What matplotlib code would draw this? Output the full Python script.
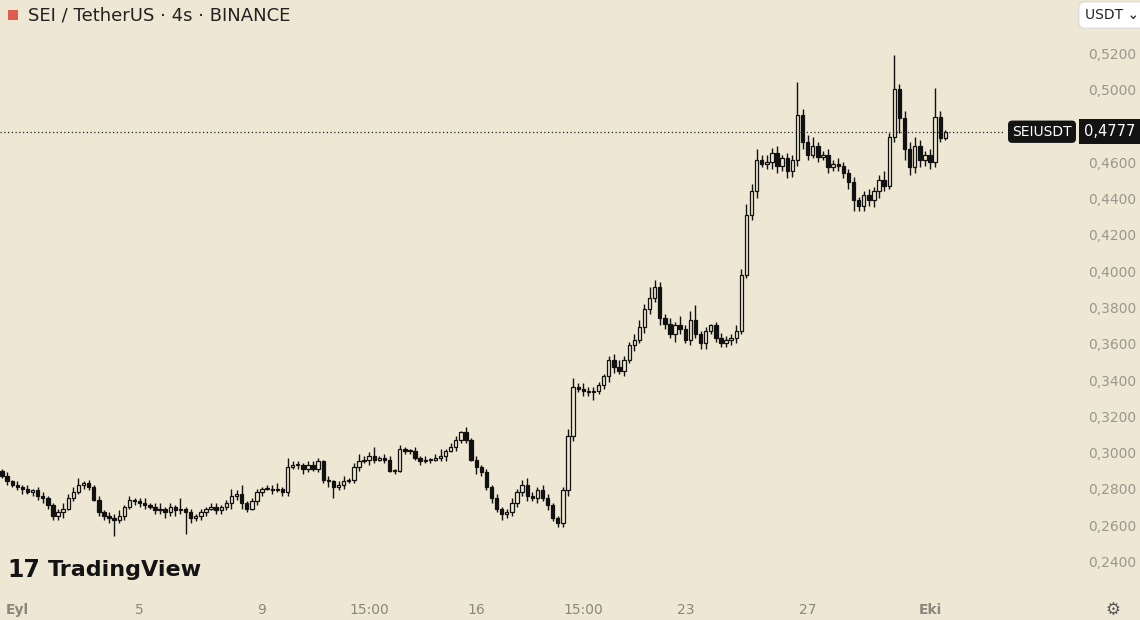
import matplotlib
matplotlib.use("Agg")
import matplotlib.pyplot as plt
import matplotlib.transforms as mtransforms
from matplotlib.patches import Rectangle, FancyBboxPatch

# 4h candles, SEI/USDT, late Aug -> Oct 1
closes = [
    0.288, 0.285, 0.283, 0.282, 0.281, 0.279, 0.280, 0.277, 0.276, 0.272,
    0.266, 0.268, 0.270, 0.276, 0.279, 0.283, 0.284, 0.282, 0.275, 0.268,
    0.266, 0.265, 0.264, 0.266, 0.271, 0.275, 0.274, 0.273, 0.272, 0.271,
    0.269, 0.270, 0.268, 0.271, 0.269, 0.270, 0.268, 0.265, 0.266, 0.268,
    0.270, 0.271, 0.269, 0.271, 0.273, 0.277, 0.278, 0.273, 0.270, 0.274,
    0.279, 0.281, 0.281, 0.280, 0.281, 0.279, 0.293, 0.294, 0.294, 0.292,
    0.294, 0.292, 0.296, 0.286, 0.285, 0.282, 0.283, 0.285, 0.286, 0.293,
    0.296, 0.297, 0.299, 0.297, 0.298, 0.297, 0.291, 0.291, 0.303, 0.302,
    0.302, 0.298, 0.296, 0.297, 0.297, 0.298, 0.299, 0.302, 0.304, 0.308,
    0.312, 0.308, 0.297, 0.293, 0.290, 0.282, 0.276, 0.270, 0.267, 0.268,
    0.273, 0.279, 0.283, 0.277, 0.276, 0.280, 0.276, 0.272, 0.265, 0.262,
    0.280, 0.310, 0.337, 0.336, 0.335, 0.334, 0.335, 0.338, 0.343, 0.352,
    0.348, 0.346, 0.352, 0.360, 0.363, 0.370, 0.380, 0.386, 0.392, 0.375,
    0.372, 0.366, 0.371, 0.369, 0.363, 0.374, 0.366, 0.361, 0.368, 0.371,
    0.364, 0.361, 0.363, 0.364, 0.368, 0.399, 0.432, 0.445, 0.462, 0.460,
    0.461, 0.466, 0.459, 0.463, 0.456, 0.462, 0.487, 0.472, 0.465, 0.470,
    0.464, 0.465, 0.458, 0.460, 0.459, 0.455, 0.450, 0.440, 0.437, 0.443,
    0.440, 0.445, 0.451, 0.448, 0.475, 0.501, 0.485, 0.468, 0.458, 0.470,
    0.462, 0.465, 0.461, 0.486, 0.474, 0.4777,
]
first_open = 0.291

# wick lengths in units of 0.001
up_wicks = [
    1, 2, 1, 2, 1, 2, 1, 2, 2, 1,
    1, 2, 3, 2, 3, 4, 1, 2, 1, 2,
    1, 2, 2, 3, 1, 2, 1, 2, 3, 1,
    2, 3, 1, 2, 1, 6, 1, 2, 1, 2,
    1, 2, 2, 1, 2, 4, 2, 5, 1, 2,
    2, 1, 2, 2, 3, 1, 5, 2, 2, 1,
    2, 2, 2, 1, 2, 1, 2, 3, 1, 2,
    4, 2, 2, 5, 1, 2, 2, 1, 2, 1,
    1, 2, 1, 2, 1, 2, 4, 1, 2, 2,
    1, 3, 1, 2, 1, 2, 1, 2, 1, 2,
    3, 2, 3, 4, 2, 2, 3, 2, 1, 1,
    2, 4, 5, 2, 3, 2, 2, 2, 1, 2,
    3, 4, 2, 2, 3, 4, 3, 6, 4, 3,
    2, 3, 2, 5, 2, 5, 8, 2, 2, 1,
    2, 3, 2, 2, 3, 3, 6, 4, 6, 3,
    4, 3, 4, 2, 3, 3, 18, 3, 4, 5,
    2, 2, 3, 2, 3, 2, 2, 3, 2, 2,
    3, 2, 3, 5, 2, 19, 3, 4, 4, 5,
    3, 2, 3, 16, 3, 1,
]
down_wicks = [
    1, 2, 1, 2, 3, 1, 2, 2, 3, 2,
    2, 2, 3, 1, 2, 1, 2, 2, 1, 2,
    2, 3, 9, 2, 2, 1, 2, 2, 2, 1,
    2, 2, 3, 2, 3, 2, 12, 3, 2, 2,
    2, 1, 2, 2, 2, 3, 2, 3, 2, 1,
    2, 2, 1, 2, 1, 2, 2, 1, 2, 3,
    2, 1, 2, 2, 3, 6, 2, 2, 1, 2,
    2, 1, 3, 2, 1, 2, 1, 2, 1, 2,
    2, 1, 2, 1, 2, 1, 2, 3, 1, 2,
    2, 2, 1, 4, 2, 2, 3, 2, 3, 2,
    2, 2, 2, 3, 2, 3, 2, 3, 2, 2,
    2, 3, 3, 2, 3, 2, 4, 2, 2, 3,
    3, 2, 3, 2, 3, 2, 3, 3, 2, 4,
    3, 2, 4, 3, 2, 3, 2, 3, 3, 2,
    2, 2, 2, 3, 3, 2, 2, 3, 4, 2,
    3, 4, 4, 3, 4, 3, 3, 4, 3, 2,
    3, 2, 3, 2, 3, 3, 4, 6, 3, 3,
    3, 4, 4, 3, 2, 3, 8, 6, 4, 3,
    4, 3, 4, 3, 2, 1,
]

x_labels = ["Eyl", "5", "9", "15:00", "16", "15:00", "23", "27", "Eki"]
x_label_idx = [3, 27, 51, 72, 93, 114, 134, 158, 182]
y_ticks = [0.24, 0.26, 0.28, 0.30, 0.32, 0.34, 0.36, 0.38, 0.40, 0.42,
           0.44, 0.46, 0.48, 0.50, 0.52]
last_price = 0.4777

BG = "#eee7d3"
opens = [first_open] + closes[:-1]

fig = plt.figure(figsize=(11.4, 6.2), dpi=100, facecolor=BG)
ax = fig.add_axes([0, 25 / 620, 1005 / 1140, 595 / 620], facecolor=BG)
ax.set_xlim(-0.39, 196.7)
ax.set_ylim(0.2224, 0.5503)
for s in ax.spines.values():
    s.set_visible(False)
ax.set_xticks([])
ax.set_yticks([])

w = 0.66
for i, (o, c) in enumerate(zip(opens, closes)):
    hi = max(o, c) + up_wicks[i] / 1000
    lo = min(o, c) - down_wicks[i] / 1000
    ax.vlines(i, lo, hi, color="#111111", lw=1.0, zorder=1)
    body = max(abs(c - o), 0.0004)
    face = BG if c >= o else "#111111"
    ax.add_patch(Rectangle((i - w / 2, min(o, c)), w, body, facecolor=face,
                           edgecolor="#111111", lw=0.9, zorder=2))

# last price dotted line, runs into the price scale
fig.add_artist(plt.Line2D([0, 1005 / 1140], [0, 0], transform=mtransforms.blended_transform_factory(fig.transFigure, ax.transData)))
fig.artists[-1].set_data([0, 1005 / 1140], [last_price, last_price])
fig.artists[-1].set_color("#222222")
fig.artists[-1].set_linewidth(0.9)
fig.artists[-1].set_linestyle((0, (1, 2)))

# x labels
trans = mtransforms.blended_transform_factory(ax.transData, fig.transFigure)
for lab, idx in zip(x_labels, x_label_idx):
    ax.text(idx, 10 / 620, lab, transform=trans, ha="center", va="center",
            fontsize=10, color="#8a877e",
            fontweight="bold" if lab in ("Eyl", "Eki") else "normal")

# y labels
ytrans = mtransforms.blended_transform_factory(fig.transFigure, ax.transData)
for t in y_ticks:
    if abs(t - 0.48) < 1e-9:
        continue
    fig.text(1112 / 1140, t, f"{t:.4f}".replace(".", ","), transform=ytrans,
             ha="center", va="center", fontsize=10, color="#9a978e")

# last price tag
fig.text(1042 / 1140, last_price, "SEIUSDT", transform=ytrans, ha="center",
         va="center", fontsize=10, color="white",
         bbox=dict(boxstyle="round,pad=0.3", fc="#131313", ec="none"))
fig.text(1110 / 1140, last_price, "0,4777", transform=ytrans, ha="center",
         va="center", fontsize=10.5, color="white",
         bbox=dict(boxstyle="square,pad=0.35", fc="#131313", ec="none"))

# header
fig.text(28 / 1140, 1 - 15 / 620, "SEI / TetherUS · 4s · BINANCE", ha="left",
         va="center", fontsize=13, color="#222222")
fig.patches.append(FancyBboxPatch((8 / 1140, 1 - 20 / 620), 10 / 1140, 10 / 620,
                                  boxstyle="round,pad=0", fc="#e05d4b", ec="none",
                                  transform=fig.transFigure))
fig.text(1112 / 1140, 1 - 15 / 620, "USDT ⌄", ha="center", va="center",
         fontsize=10, color="#222222",
         bbox=dict(boxstyle="round,pad=0.45", fc="white", ec="#dddddd"))

# watermark
fig.text(7 / 1140, 1 - 570 / 620, "17", ha="left", va="center", fontsize=17,
         fontweight="heavy", color="#131313")
fig.text(48 / 1140, 1 - 570 / 620, "TradingView", ha="left", va="center",
         fontsize=16, fontweight="bold", color="#131313")
fig.text(1113 / 1140, 1 - 610 / 620, "⚙", ha="center", va="center",
         fontsize=12, color="#555555")

fig.savefig("out.png", dpi=100, facecolor=BG)
